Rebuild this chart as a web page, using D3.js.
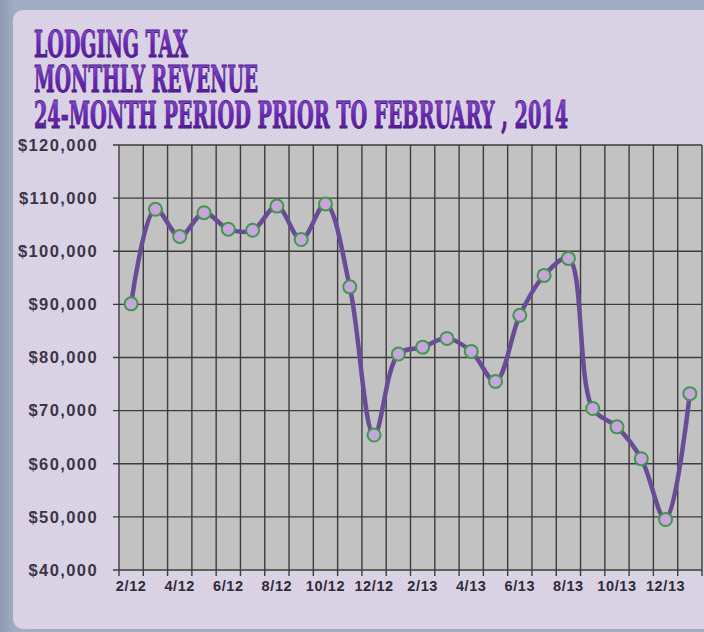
<!DOCTYPE html>
<html>
<head>
  <meta charset="utf-8">
  <title>Lodging Tax Monthly Revenue</title>
  <script src="https://d3js.org/d3.v7.min.js"></script>
  <style>
    body { margin: 0; background: #9ea8c0; overflow: hidden; }
    svg { display: block; }
    .ylab text { font-family: "Liberation Sans", Arial, sans-serif; font-weight: bold; font-size: 16.5px; fill: #3b3548; letter-spacing: 1.4px; }
    .xlab text { font-family: "Liberation Sans", Arial, sans-serif; font-weight: bold; font-size: 14.5px; fill: #2e2a36; letter-spacing: 0.6px; }
    .grid line { stroke: #3c3c3c; stroke-width: 1.4; }
  </style>
</head>
<body>
<script>
// months shown, 2/12 .. 1/14
var months = ['2/12','3/12','4/12','5/12','6/12','7/12','8/12','9/12','10/12','11/12','12/12','1/13',
              '2/13','3/13','4/13','5/13','6/13','7/13','8/13','9/13','10/13','11/13','12/13','1/14'];
var revenue = [90100, 107900, 102800, 107250, 104150, 103950, 108500, 102200, 108900, 93300, 65400, 80650,
               81950, 83600, 81150, 75500, 87950, 95450, 98650, 70400, 66950, 60950, 49500, 73200];
var yTicks = [40000, 50000, 60000, 70000, 80000, 90000, 100000, 110000, 120000];
var titleLines = ['LODGING TAX', 'MONTHLY REVENUE', '24-MONTH PERIOD PRIOR TO FEBRUARY , 2014'];

var W = 704, H = 632;
var LEFT = 119, RIGHT = 702, TOP = 145, BOTTOM = 570;

var svg = d3.select('body').append('svg').attr('width', W).attr('height', H);
var defs = svg.append('defs');

// frame: slate border + lavender panel (rounded on the left only, runs off to the right)
var lg = defs.append('linearGradient').attr('id', 'frame').attr('x1', 0).attr('x2', 1).attr('y1', 0).attr('y2', 0);
lg.append('stop').attr('offset', '0').attr('stop-color', '#8f9ab3');
lg.append('stop').attr('offset', '0.02').attr('stop-color', '#a2acc4');
svg.append('rect').attr('width', W).attr('height', H).attr('fill', 'url(#frame)');

var px = 13, py = 10, pb = H - 3, r = 12;
var panel = 'M' + (px + r) + ',' + py + 'H' + W + 'V' + pb + 'H' + (px + r) +
  'Q' + px + ',' + pb + ' ' + px + ',' + (pb - r) + 'V' + (py + r) + 'Q' + px + ',' + py + ' ' + (px + r) + ',' + py + 'Z';
svg.append('path').attr('d', panel).attr('fill', '#ddd5e7');

// faint texture on the panel
var pat = defs.append('pattern').attr('id', 'tex').attr('width', 4).attr('height', 4).attr('patternUnits', 'userSpaceOnUse');
pat.append('rect').attr('width', 2).attr('height', 2).attr('fill', '#d3cbdf');
pat.append('rect').attr('x', 2).attr('y', 2).attr('width', 2).attr('height', 2).attr('fill', '#d3cbdf');
svg.append('path').attr('d', panel).attr('fill', 'url(#tex)').attr('opacity', 0.6);

// title
var tg = defs.append('linearGradient').attr('id', 'tgrad').attr('x1', 0).attr('x2', 0).attr('y1', 0).attr('y2', 1);
tg.append('stop').attr('offset', '0').attr('stop-color', '#9458dc');
tg.append('stop').attr('offset', '0.5').attr('stop-color', '#6a28b8');
tg.append('stop').attr('offset', '1').attr('stop-color', '#4a168a');
var titleWidths = [154, 224, 534];
var titleBase = [57, 92, 128];
var title = svg.append('g');
title.selectAll('text').data(titleLines).enter().append('text')
  .attr('x', 34)
  .attr('y', function(d, i) { return titleBase[i]; })
  .attr('textLength', function(d, i) { return titleWidths[i]; })
  .attr('lengthAdjust', 'spacingAndGlyphs')
  .style('font-family', '"DejaVu Serif Condensed", "DejaVu Serif", serif')
  .style('font-weight', 'bold')
  .style('font-size', '37px')
  .style('fill', 'url(#tgrad)')
  .style('stroke', '#4a1a80')
  .style('stroke-width', 0.8)
  .text(function(d) { return d; });

// scales
var x = d3.scaleBand().domain(months).range([LEFT, RIGHT]).padding(0);
var y = d3.scaleLinear().domain([40000, 120000]).range([BOTTOM, TOP]);

// plot area
svg.append('rect').attr('x', LEFT).attr('y', TOP).attr('width', RIGHT - LEFT).attr('height', BOTTOM - TOP)
  .attr('fill', '#c2c2c2');

var grid = svg.append('g').attr('class', 'grid');
grid.selectAll('.h').data(yTicks).enter().append('line')
  .attr('x1', LEFT - 6).attr('x2', RIGHT)
  .attr('y1', function(d) { return y(d); }).attr('y2', function(d) { return y(d); });
var bounds = months.slice(1).map(function(m) { return x(m); }).concat([RIGHT]);
grid.selectAll('.v').data(bounds).enter().append('line')
  .attr('x1', function(d) { return d; }).attr('x2', function(d) { return d; })
  .attr('y1', TOP).attr('y2', BOTTOM + 6);
grid.append('line').attr('x1', LEFT).attr('x2', LEFT).attr('y1', TOP).attr('y2', BOTTOM + 6);

// y labels
var yAxis = d3.axisLeft(y).tickValues(yTicks).tickFormat(d3.format('$,')).tickSize(0).tickPadding(21);
svg.append('g').attr('class', 'ylab').attr('transform', 'translate(' + LEFT + ',0)').call(yAxis)
  .call(function(g) { g.select('.domain').remove(); });

// x labels, every other month
var xAxis = d3.axisBottom(x).tickValues(months.filter(function(d, i) { return i % 2 === 0; })).tickSize(0).tickPadding(11);
svg.append('g').attr('class', 'xlab').attr('transform', 'translate(0,' + BOTTOM + ')').call(xAxis)
  .call(function(g) { g.select('.domain').remove(); });

// line + markers
var cx = function(d, i) { return x(months[i]) + x.bandwidth() / 2; };
var line = d3.line().x(cx).y(function(d) { return y(d); }).curve(d3.curveCatmullRom.alpha(0.5));
svg.append('path').datum(revenue).attr('d', line)
  .attr('fill', 'none').attr('stroke', '#6a4c96').attr('stroke-width', 4.5).attr('stroke-linejoin', 'round');
svg.selectAll('.dot').data(revenue).enter().append('circle')
  .attr('cx', cx).attr('cy', function(d) { return y(d); }).attr('r', 6.5)
  .attr('fill', '#c6a6dc').attr('stroke', '#3f9a48').attr('stroke-width', 2);
</script>
</body>
</html>
